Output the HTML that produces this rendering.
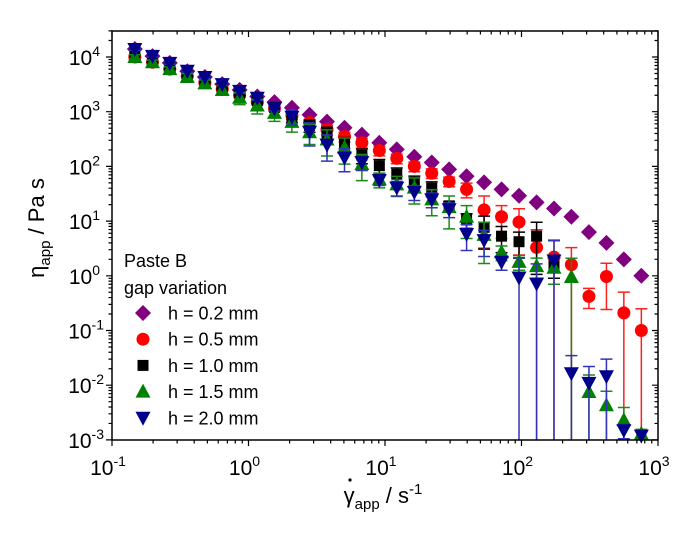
<!DOCTYPE html>
<html><head><meta charset="utf-8"><style>
html,body{margin:0;padding:0;background:#fff;}
svg{display:block;font-family:"Liberation Sans",Arial,sans-serif;}
</style></head><body>
<svg id="chart" width="700" height="538" viewBox="0 0 700 538" xmlns="http://www.w3.org/2000/svg">
<g id="marks"></g>
<g id="axes"></g>
<g id="legend">
<text x="124" y="267" font-size="18">Paste B</text>
<text x="124" y="294" font-size="18">gap variation</text>
</g>
<text transform="translate(44,228) rotate(-90)" text-anchor="middle" font-size="22">η<tspan font-size="15" dy="6">app</tspan><tspan dy="-6"> / Pa s</tspan></text>
<text x="383" y="503" text-anchor="middle" font-size="22">γ<tspan font-size="15" dy="6">app</tspan><tspan dy="-6"> / s</tspan><tspan font-size="15" dy="-9">-1</tspan></text>
<circle cx="350" cy="480" r="1.6" fill="#000"/>
</svg>
<script>
const shearRates=[0.147,0.198,0.265,0.356,0.479,0.642,0.861,1.16,1.55,2.08,2.80,3.76,5.05,6.77,9.09,12.2,16.4,22.0,29.5,39.6,53.2,71.4,95.9,129,173,232,312,419,562,755];
const etaH02=[14000,10400,7800,5500,4300,3200,2500,1900,1500,1180,880,660,510,380,270,205,150,118,88,66,51,38,29,22,17,12,6.3,4.0,2.0,1.0];
const etaH05=[10000,8000,6000,4500,3400,2600,2000,1500,1150,850,630,470,350,270,195,140,100,75,53,38,16,12,9.6,3.3,2.2,1.6,0.42,0.97,0.21,0.1];
const etaH10=[12000,9000,6800,5000,3800,2900,2200,1600,1200,780,560,400,260,160,103,72,51,40,19,10.5,7.7,5.3,4.2,5.3,1.5,null,null,null,null,null];
const etaH15=[10000,8000,6000,4300,3300,2500,1800,1300,950,650,420,310,220,110,58,47,41,25,18,12,5.6,2.7,1.8,1.5,1.4,0.95,0.0075,0.0043,0.0023,0.0013];
const etaH20=[14000,10500,7800,5600,4300,3200,2400,1800,1150,810,430,250,145,120,56,41,34,25,16.5,5.8,4.5,1.8,0.93,0.72,1.9,0.0165,0.011,0.0146,0.0015,0.0012];
const errH02=[0.05,0.05,0.05,0.05,0.05,0.05,0.05,0.05,0.05,0.05,0.05,0.05,0.05,0.05,0.05,0.05,0.05,0.05,0.05,0.05,0.05,0.05,0.05,0.05,0.05,0.05,0.05,0.05,0.05,0.05];
const errH05=[0.1,0.1,0.1,0.1,0.1,0.1,0.1,0.1,0.1,0.15,0.15,0.2,0.2,0.2,0.2,0.2,0.2,0.2,0.2,0.3,0.8,0.6,0.75,1.1,1.05,1.05,0.4,0.75,1.4,1.5];
const errH10=[0.1,0.1,0.1,0.1,0.1,0.1,0.1,0.1,0.15,0.2,0.25,0.3,0.3,0.3,0.3,0.3,0.3,0.3,0.2,0.3,0.6,0.5,0.5,0.8,0.4,0,0,0,0,0];
const errH15=[0.1,0.1,0.1,0.15,0.15,0.2,0.25,0.3,0.3,0.35,0.4,0.5,0.5,0.5,0.3,0.4,0.5,0.5,0.6,0.6,0.7,0.3,0.3,0.4,0.5,1.2,1.05,0.8,0.7,0.2];
const errH20=[0.05,0.05,0.05,0.05,0.05,0.05,0.1,0.1,0.1,0.3,0.45,0.5,0.45,0.3,0.2,0.3,0.3,0.3,0.3,0.5,0.5,0.3,1.3,1.3,1.3,1.1,1.0,1.05,0.3,0.2];
const legendLabels=["h = 0.2 mm","h = 0.5 mm","h = 1.0 mm","h = 1.5 mm","h = 2.0 mm"];
const xTickExps=[-1,0,1,2,3];
const yTickExps=[-3,-2,-1,0,1,2,3,4];

const NS="http://www.w3.org/2000/svg";
const L=112,R=658,T=31,B=440;
const X0=-1,XD=136.5, Y0=4, Y0px=57, YD=54.7;
function xs(v){return L+(Math.log10(v)-X0)*XD;}
function ys(v){return Y0px+(Y0-Math.log10(v))*YD;}
function mk(tag,attrs,parent){const e=document.createElementNS(NS,tag);for(const k in attrs)e.setAttribute(k,attrs[k]);parent.appendChild(e);return e;}
const marks=document.getElementById('marks'),axes=document.getElementById('axes'),legend=document.getElementById('legend');

function marker(shape,cx,cy,col,parent){
  let e;
  if(shape==='diamond') e=mk('polygon',{points:`${cx},${cy-8} ${cx+8},${cy} ${cx},${cy+8} ${cx-8},${cy}`,fill:col},parent);
  else if(shape==='circle') e=mk('circle',{cx:cx,cy:cy,r:6.5,fill:col},parent);
  else if(shape==='square') e=mk('rect',{x:cx-5.5,y:cy-5.5,width:11,height:11,fill:col},parent);
  else if(shape==='up') e=mk('polygon',{points:`${cx},${cy-8} ${cx+7.5},${cy+6} ${cx-7.5},${cy+6}`,fill:col},parent);
  else e=mk('polygon',{points:`${cx},${cy+8} ${cx+7.5},${cy-6} ${cx-7.5},${cy-6}`,fill:col},parent);
  return e;
}
const series=[
 {vals:etaH02,err:errH02,shape:'diamond',col:'#800080',ecol:'#993399',name:'h02'},
 {vals:etaH05,err:errH05,shape:'circle',col:'#ff0000',ecol:'#ff2020',name:'h05'},
 {vals:etaH10,err:errH10,shape:'square',col:'#000000',ecol:'#000000',name:'h10'},
 {vals:etaH15,err:errH15,shape:'up',col:'#008000',ecol:'#1a8a1a',name:'h15'},
 {vals:etaH20,err:errH20,shape:'down',col:'#00008b',ecol:'#3333bb',name:'h20'}
];
series.forEach((s,si)=>{
  const g=mk('g',{},marks);
  
  
  s.vals.forEach((v,i)=>{
    if(v==null)return;
    const cx=xs(shearRates[i]),cy=ys(v);
    const e=s.err[i]*v;
    if(e>0){
      const top=ys(v+e);
      const lo=v-e;const bot=lo>0?Math.min(ys(lo),B):B;
      const eb=mk('path',{d:`M${cx},${top}V${bot}M${cx-6},${top}H${cx+6}`+(lo>0&&ys(lo)<B?`M${cx-6},${bot}H${cx+6}`:''),stroke:s.ecol,'stroke-width':1.5,fill:'none'},g);
      
      
    }
    const m=marker(s.shape,cx,cy,s.col,g);
    
    
  });
  const ly=313+si*26.2;
  const lm=marker(s.shape,143,ly,s.col,legend);
  
  
  const lt=mk('text',{x:168,y:ly+6.5,'font-size':18},legend);
  lt.textContent=legendLabels[si];
  
  
});
const fr=mk('rect',{x:L,y:T,width:R-L,height:B-T,fill:'none',stroke:'#000','stroke-width':1.5},axes);


let d='';
for(let e=-1;e<3;e++)for(let k=1;k<10;k++){
  const x=L+(e+Math.log10(k)-X0)*XD; const len=k===1?6:3.5;
  d+=`M${x},${B}v${len}M${x},${T}v${len}`;
}
d+=`M${R},${B}v6M${R},${T}v6`;
for(let e=-3;e<5;e++)for(let k=1;k<10;k++){
  const y=Y0px+(Y0-(e+Math.log10(k)))*YD; if(y<T-0.5)continue; const len=k===1?6:3.5;
  d+=`M${L},${y}h${-len}M${R},${y}h${-len}`;
}
const tk=mk('path',{d:d,stroke:'#000','stroke-width':1.2,fill:'none'},axes);


xTickExps.forEach(e=>{
  const t=mk('text',{x:L+(e-X0)*XD-4,y:475,'text-anchor':'middle','font-size':21},axes);
  t.innerHTML=`10<tspan font-size="14" dy="-9">${e}</tspan>`;
  
  
});
yTickExps.forEach(e=>{
  const t=mk('text',{x:e<0?104:100,y:Y0px+(Y0-e)*YD+8,'text-anchor':'end','font-size':21},axes);
  t.innerHTML=`10<tspan font-size="14" dy="-9">${e}</tspan>`;
  
  
});
</script>
</body></html>
